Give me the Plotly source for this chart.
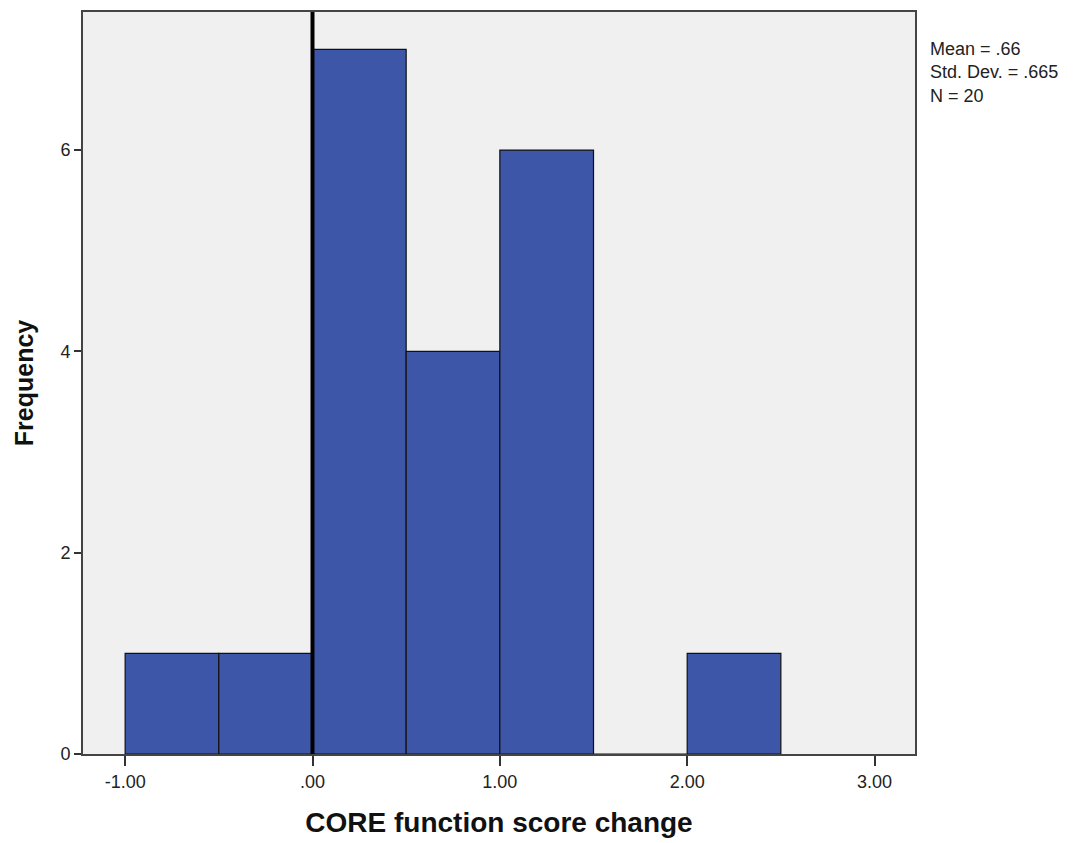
import plotly.graph_objects as go

bin_centers = [-0.75, -0.25, 0.25, 0.75, 1.25, 1.75, 2.25]
counts = [1, 1, 7, 4, 6, 0, 1]
bin_width = 0.5
x_ticks = [-1, 0, 1, 2, 3]
x_tick_labels = ["-1.00", ".00", "1.00", "2.00", "3.00"]
y_ticks = [0, 2, 4, 6]
stats_lines = ["Mean = .66", "Std. Dev. = .665", "N = 20"]
ref_x = 0

fig = go.Figure()
fig.add_trace(go.Bar(
    x=bin_centers, y=counts, width=bin_width,
    marker=dict(color="#3e56a8", line=dict(color="#111111", width=1.2)),
    hoverinfo="x+y",
))
fig.add_shape(type="line", x0=ref_x, x1=ref_x, y0=0, y1=1, yref="paper", xref="x",
              line=dict(color="black", width=4))

fig.add_annotation(text="<br>".join(stats_lines), xref="paper", yref="paper",
                   x=1.016, y=0.966, xanchor="left", yanchor="top", showarrow=False,
                   align="left", font=dict(family="Liberation Sans, Arial", size=18, color="#222222"))

fig.update_layout(
    width=1088, height=843,
    margin=dict(l=83, r=173, t=10, b=85),
    paper_bgcolor="white", plot_bgcolor="#f0f0f0",
    showlegend=False,
    font=dict(family="Liberation Sans, Arial", color="#222222"),
)
fig.update_xaxes(
    range=[-1.225, 3.216], tickvals=x_ticks, ticktext=x_tick_labels,
    ticks="outside", ticklen=10, tickwidth=2, tickcolor="#333333",
    showgrid=False, zeroline=False, showline=True, linecolor="#444444", linewidth=2, mirror=True,
    tickfont=dict(size=18, color="#222222"),
    title=dict(text="<b>CORE function score change</b>", font=dict(size=28, color="#111111"), standoff=22),
)
fig.update_yaxes(
    range=[0, 7.372], tickvals=y_ticks,
    ticks="outside", ticklen=7, tickwidth=2, tickcolor="#333333",
    showgrid=False, zeroline=False, showline=True, linecolor="#444444", linewidth=2, mirror=True,
    tickfont=dict(size=18, color="#222222"),
    title=dict(text="<b>Frequency</b>", font=dict(size=25, color="#111111"), standoff=20),
)
fig.write_html("out.html")
